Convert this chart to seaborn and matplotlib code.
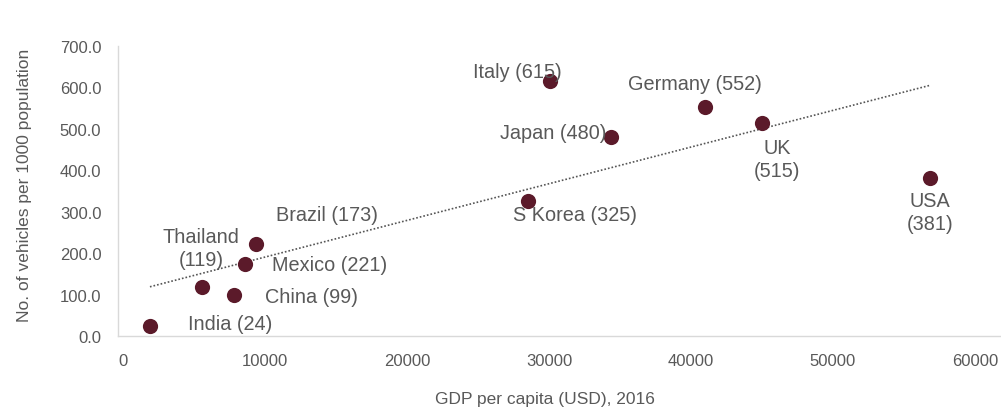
import matplotlib
matplotlib.use("Agg")
import matplotlib.pyplot as plt
import seaborn as sns
import pandas as pd
from matplotlib.ticker import FormatStrFormatter

# values
countries = ["India", "Thailand", "China", "Mexico", "Brazil", "S Korea",
             "Italy", "Japan", "Germany", "UK", "USA"]
gdp = [1900, 5600, 7800, 8600, 9400, 28500, 30100, 34400, 41000, 45000, 56800]
vehicles = [24, 119, 99, 173, 221, 325, 615, 480, 552, 515, 381]

# label text and where it sits (data coords)
labels = ["India (24)", "Thailand\n(119)", "China (99)", "Mexico (221)", "Brazil (173)",
          "S Korea (325)", "Italy (615)", "Japan (480)", "Germany (552)", "UK\n(515)",
          "USA\n(381)"]
label_x = [7540, 5490, 13310, 14580, 14370, 31830, 27800, 30280, 40280, 46060, 56830]
label_y = [31, 212, 96, 173, 294, 294, 638, 491, 609, 427, 299]

df = pd.DataFrame({"gdp": gdp, "vehicles": vehicles})

sns.set_style("white")
plt.rcParams['font.family'] = ['Liberation Sans', 'DejaVu Sans']

text_col = "#595959"
dot_col = "#5b1a2a"

fig = plt.figure(figsize=(10.01, 4.10), dpi=100)
ax = fig.add_axes([118 / 1001, 73 / 410, 882 / 1001, 290 / 410])

sns.regplot(data=df, x="gdp", y="vehicles", ax=ax, ci=None,
            scatter_kws={"s": 120, "color": dot_col, "alpha": 1, "linewidths": 0, "zorder": 3},
            line_kws={"color": "#555555", "linestyle": (0, (1, 1.2)), "linewidth": 1.2, "zorder": 2})

for t, lx, ly in zip(labels, label_x, label_y):
    ax.text(lx, ly, t, ha="center", va="center", fontsize=14.3, color=text_col,
            linespacing=1.3, zorder=4)

ax.set_xlim(-350, 61760)
ax.set_ylim(0, 700)
ax.set_xticks([0, 10000, 20000, 30000, 40000, 50000, 60000])
ax.set_yticks([0, 100, 200, 300, 400, 500, 600, 700])
ax.yaxis.set_major_formatter(FormatStrFormatter("%.1f"))
ax.tick_params(axis="both", length=0, labelsize=12, colors=text_col, pad=12)

ax.set_xlabel("GDP per capita (USD), 2016", fontsize=12.5, color=text_col)
ax.set_ylabel("No. of vehicles per 1000 population", fontsize=12.5, color=text_col)
ax.xaxis.set_label_coords(0.484, -0.19)
ax.yaxis.set_label_coords(-0.097, 0.524)

for side in ["top", "right"]:
    ax.spines[side].set_visible(False)
for side in ["left", "bottom"]:
    ax.spines[side].set_color("#d9d9d9")
    ax.spines[side].set_linewidth(1)

fig.savefig("out.png", dpi=100)
